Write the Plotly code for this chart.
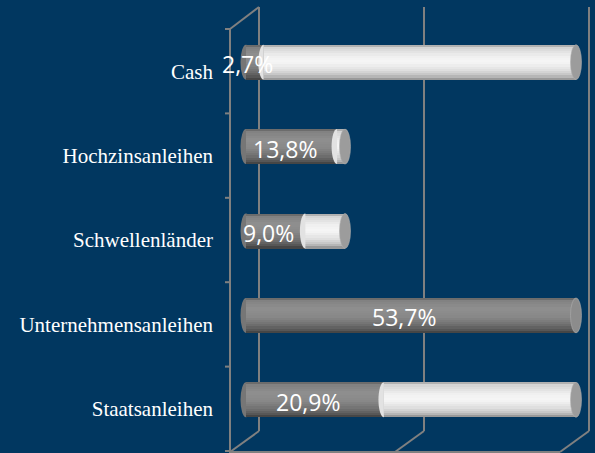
import plotly.graph_objects as go

# ---------------- data ----------------
categories = ["Cash", "Hochzinsanleihen", "Schwellenländer", "Unternehmensanleihen", "Staatsanleihen"]
values = [2.7, 13.8, 9.0, 53.7, 20.9]          # grey (labelled) series, in %
totals = [50.0, 15.0, 15.0, 53.7, 50.0]        # end of the white segment, in %
axis_ticks = [0, 25, 50]
AXIS_MAX = 50

# ---------------- geometry / style ----------------
W, H = 595, 453
BG = "#013760"
PX = 6.6            # px per % unit
X0_PX = 246         # pixel of value 0
L = 220             # left edge of plot area (px)
BAND = 84.4         # px per category band
TOP = 29            # px of first band edge

xmin = (L - X0_PX) / PX
xmax = (W - X0_PX) / PX
ytop = -0.5 - TOP / BAND
ybot = -0.5 + (H - TOP) / BAND

BH = 35 / BAND      # bar thickness (y units)
CO = -9 / BAND      # bar centre offset from band centre
RX = 5.5 / PX       # cap ellipse half width (x units)
N = 16

gray_profile = [(0, "#5c5c5c"), (0.07, "#808080"), (0.3, "#8f8f8f"), (0.55, "#878787"),
                (0.75, "#727272"), (0.9, "#595959"), (1, "#3e3e3e")]
white_profile = [(0, "#9a9a9a"), (0.08, "#d4d4d4"), (0.35, "#f1f1f1"), (0.5, "#f6f6f6"),
                 (0.7, "#e2e2e2"), (0.88, "#c2c2c2"), (1, "#8a8a8a")]


def sample(profile, t):
    for (a, ca), (b, cb) in zip(profile[:-1], profile[1:]):
        if a <= t <= b:
            f = (t - a) / (b - a) if b > a else 0
            c1 = [int(ca[i:i + 2], 16) for i in (1, 3, 5)]
            c2 = [int(cb[i:i + 2], 16) for i in (1, 3, 5)]
            c = [round(x + (y - x) * f) for x, y in zip(c1, c2)]
            return "rgb(%d,%d,%d)" % tuple(c)
    return profile[-1][1]


idx = list(range(len(categories)))
gray_len = [min(v, AXIS_MAX) for v in values]
white_base = values
white_len = [max(0.0, min(t, AXIS_MAX) - v) for t, v in zip(totals, values)]

fig = go.Figure()
for k in range(N):
    off = CO - BH / 2 + k * BH / N
    wdt = BH / N * 1.08
    t = (k + 0.5) / N
    fig.add_trace(go.Bar(y=idx, x=gray_len, base=[0] * len(idx), orientation="h",
                         offset=off, width=wdt, marker=dict(color=sample(gray_profile, t), line=dict(width=0)),
                         hoverinfo="skip", showlegend=False))
    fig.add_trace(go.Bar(y=idx, x=white_len, base=white_base, orientation="h",
                         offset=off, width=wdt, marker=dict(color=sample(white_profile, t), line=dict(width=0)),
                         hoverinfo="skip", showlegend=False))

shapes = []
LINE = dict(color="#808080", width=2)
BACK_DX = 13 / PX
FRONT_DX = -16 / PX
y_back_top = -0.5 - 22 / BAND
y_back_bot = 4.5 - 20 / BAND
y_front_bot = 4.5 + 1 / BAND

for tv in axis_ticks:
    shapes.append(dict(type="line", xref="x", yref="y", x0=tv + BACK_DX, x1=tv + BACK_DX,
                       y0=y_back_top, y1=y_back_bot, line=LINE, layer="below"))
    shapes.append(dict(type="line", xref="x", yref="y", x0=tv + BACK_DX, x1=tv + FRONT_DX,
                       y0=y_back_bot, y1=y_front_bot, line=LINE, layer="below"))
shapes.append(dict(type="line", xref="x", yref="y", x0=FRONT_DX, x1=FRONT_DX,
                   y0=-0.5, y1=ybot, line=LINE, layer="below"))
shapes.append(dict(type="line", xref="x", yref="y", x0=FRONT_DX, x1=BACK_DX,
                   y0=-0.5, y1=y_back_top, line=LINE, layer="below"))
shapes.append(dict(type="line", xref="x", yref="y", x0=FRONT_DX, x1=axis_ticks[-1] + FRONT_DX,
                   y0=y_front_bot, y1=y_front_bot, line=LINE, layer="below"))
for b in range(len(categories) + 1):
    shapes.append(dict(type="line", xref="x", yref="y", x0=FRONT_DX - 5 / PX, x1=FRONT_DX,
                       y0=b - 0.5, y1=b - 0.5, line=LINE, layer="below"))

K = 0.5523
for i in idx:
    yc = i + CO
    yt, yb = yc - BH / 2, yc + BH / 2
    # left rounded end
    shapes.append(dict(type="circle", xref="x", yref="y", x0=-RX, x1=RX, y0=yt, y1=yb,
                       fillcolor="#767676", line=dict(width=0), layer="below"))
    # boundary grey -> white (convex white start)
    if white_len[i] > 0:
        v = values[i]
        ry = BH / 2
        path = (f"M {v},{yt} C {v - K * RX},{yt} {v - RX},{yc - K * ry} {v - RX},{yc} "
                f"C {v - RX},{yc + K * ry} {v - K * RX},{yb} {v},{yb} Z")
        shapes.append(dict(type="path", xref="x", yref="y", path=path,
                           fillcolor="#e2e2e2", line=dict(width=0), layer="above"))
    # right cap
    xe = min(totals[i], AXIS_MAX) if white_len[i] > 0 else gray_len[i]
    cap = "#9c9c9c" if white_len[i] > 0 else "#8c8c8c"
    shapes.append(dict(type="circle", xref="x", yref="y", x0=xe - RX, x1=xe + RX, y0=yt, y1=yb,
                       fillcolor=cap, line=dict(color="#adadad", width=0.6), layer="above"))

annotations = []
for i in idx:
    txt = f"{values[i]:.1f}".replace(".", ",") + "%"
    annotations.append(dict(x=gray_len[i] / 2, y=i + CO, xref="x", yref="y", text=txt,
                            showarrow=False, xshift=-7, yshift=-2,
                            font=dict(family="Open Sans", size=23, color="white")))

fig.update_layout(
    width=W, height=H,
    margin=dict(l=L, r=0, t=0, b=0),
    paper_bgcolor=BG, plot_bgcolor=BG,
    barmode="overlay", bargap=0,
    shapes=shapes, annotations=annotations,
    xaxis=dict(range=[xmin, xmax], showgrid=False, zeroline=False, showticklabels=False,
               showline=False, ticks=""),
    yaxis=dict(range=[ybot, ytop], tickvals=idx, ticktext=categories, showgrid=False,
               zeroline=False, showline=False, ticks="", ticklabelstandoff=6,
               tickfont=dict(family="Liberation Serif", size=21, color="white")),
    showlegend=False,
)

fig.write_html("out.html", config={"displayModeBar": False},
               post_script="document.body.style.margin='0';document.body.style.background='" + BG + "';")
